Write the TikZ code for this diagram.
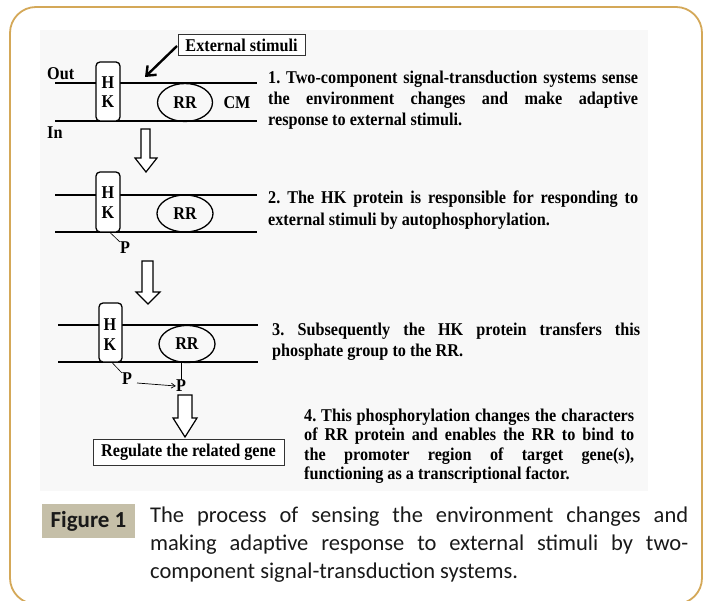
\documentclass[tikz,border=0pt]{standalone}
\usepackage{fontspec}
\setmainfont{Liberation Serif}[FakeStretch=0.9]
\newfontfamily\capfont{Carlito}
\usetikzlibrary{arrows.meta,shapes.geometric}
\definecolor{framegold}{RGB}{212,168,88}
\definecolor{figtan}{RGB}{197,191,168}
\definecolor{bglight}{RGB}{248,248,248}
\tikzset{
  lbl/.style={font=\fontsize{18}{20}\selectfont\bfseries, inner sep=0pt},
  para/.style={font=\fontsize{18}{20}\selectfont\bfseries, inner sep=0pt, anchor=base west},
  para4/.style={font=\fontsize{18}{20}\selectfont\bfseries, inner sep=0pt, anchor=base west},
  memline/.style={line width=1.8pt},
  hkbox/.style={draw, line width=1.3pt, rounded corners=4pt},
  rrell/.style={draw, ellipse, line width=1.3pt, inner sep=0pt},
  hollow/.style={draw, line width=1.2pt, fill=white},
  capline/.style={font=\capfont\fontsize{22.5}{28}\selectfont, inner sep=0pt, anchor=base west, text=black!90},
  txtbox/.style={draw=black!80, line width=1pt, inner sep=0pt}
}
\begin{document}
\frenchspacing
\begin{tikzpicture}[x=1pt,y=-1pt]
\useasboundingbox (0,0) rectangle (709,601);
% frame and background
\draw[framegold, line width=1.8pt, rounded corners=26pt] (10,7) rectangle (702,604);
\fill[bglight] (40,30) rectangle (648,491);

% ===== Step 1 =====
\node[txtbox, minimum width=127pt, minimum height=21pt, fill=white] (ext) at (241.5,45.5) {};
\node[lbl] (extt) at (ext.center) {External stimuli};
\coordinate (extarr) at (177,46);
\coordinate (exttip) at (145,77);
\draw[line width=2.4pt, -{Straight Barb[length=8pt,width=13pt]}] (extarr) -- (exttip);
\node[lbl, anchor=west] (out) at (47,74) {Out};
\node[lbl, anchor=west] (in) at (47,133) {In};
\coordinate (m1tl) at (55,83); \coordinate (m1tr) at (257,83);
\coordinate (m1bl) at (55,121); \coordinate (m1br) at (257,121);
\draw[memline] (m1tl) -- (m1tr);
\draw[memline] (m1bl) -- (m1br);
\draw[hkbox, fill=white] (96,62) rectangle (120,121);
\node[lbl] (h1) at (108,83) {H};
\node[lbl] (k1) at (108,102) {K};
\node[rrell, minimum width=55pt, minimum height=38pt] (rr1) at (185,102.5) {};
\node[lbl] (rr1t) at (rr1.center) {RR};
\node[lbl] (cm) at (237,103) {CM};
\node[para] (t1a) at (268,84) {\makebox[370pt][s]{1. Two-component signal-transduction systems sense}};
\node[para] (t1b) at (268,105) {\makebox[370pt][s]{the environment changes and make adaptive}};
\node[para] (t1c) at (268,126) {response to external stimuli.};

% hollow arrow 1
\draw[hollow] (141,129) -- (150,129) -- (150,158) -- (157,158) -- (146,172) -- (135,158) -- (141,158) -- cycle;

% ===== Step 2 =====
\draw[memline] (55,195) -- (257,195);
\draw[memline] (55,232) -- (257,232);
\draw[hkbox, fill=white] (96,172) rectangle (120,232);
\node[lbl] (h2) at (108,193) {H};
\node[lbl] (k2) at (108,213) {K};
\node[rrell, minimum width=56pt, minimum height=37pt] (rr2) at (185,213.5) {};
\node[lbl] (rr2t) at (rr2.center) {RR};
\node[lbl] (p2) at (125,248) {P};
\coordinate (p2s) at (110,232.5);
\draw[line width=0.6pt] (p2s) -- (p2.north west);
\node[para] (t2a) at (268,204) {\makebox[370pt][s]{2. The HK protein is responsible for responding to}};
\node[para] (t2b) at (268,226) {external stimuli by autophosphorylation.};

% hollow arrow 2
\draw[hollow] (142,261) -- (153,261) -- (153,292) -- (160,292) -- (148,304) -- (136,292) -- (142,292) -- cycle;

% ===== Step 3 =====
\draw[memline] (58,325) -- (258,325);
\draw[memline] (58,362) -- (258,362);
\draw[hkbox, fill=white] (99,303) rectangle (122,362);
\node[lbl] (h3) at (110,325) {H};
\node[lbl] (k3) at (110,345) {K};
\node[rrell, minimum width=56pt, minimum height=37pt] (rr3) at (187,344) {};
\node[lbl] (rr3t) at (rr3.center) {RR};
\node[lbl] (p3a) at (127,379) {P};
\node[lbl] (p3b) at (181,386) {P};
\coordinate (p3s) at (112,362.5);
\draw[line width=0.6pt] (p3s) -- (p3a.north west);
\draw[line width=0.8pt] (181,362) -- (p3b.north);
\coordinate (pa) at (137,383);
\draw[line width=0.7pt, -{Straight Barb[length=4pt,width=5pt]}] (pa) -- (p3b.west);
\node[para] (t3a) at (272,335) {\makebox[368pt][s]{3. Subsequently the HK protein transfers this}};
\node[para] (t3b) at (272,356) {phosphate group to the RR.};

% hollow arrow 3
\draw[hollow] (178,395) -- (192,395) -- (192,418) -- (197,418) -- (185,437) -- (173,418) -- (178,418) -- cycle;

% regulate box
\node[txtbox, minimum width=191pt, minimum height=26pt, fill=white] (reg) at (188.5,452) {};
\node[lbl] (regt) at (reg.center) {Regulate the related gene};

\node[para4] (t4a) at (304,421) {\makebox[330pt][s]{4. This phosphorylation changes the characters}};
\node[para4] (t4b) at (304,440) {\makebox[330pt][s]{of RR protein and enables the RR to bind to}};
\node[para4] (t4c) at (304,460) {\makebox[330pt][s]{the promoter region of target gene(s),}};
\node[para4] (t4d) at (304,479) {functioning as a transcriptional factor.};

% ===== caption =====
\fill[figtan] (42,504) rectangle (135,538);
\node[font=\capfont\bfseries\fontsize{23}{26}\selectfont, inner sep=0pt, text=black!90] (fig) at (88.5,521) {Figure 1};
\node[capline] (c1) at (150,522) {\makebox[538pt][s]{The process of sensing the environment changes and}};
\node[capline] (c2) at (150,550) {\makebox[538pt][s]{making adaptive response to external stimuli by two-}};
\node[capline] (c3) at (150,578) {component signal-transduction systems.};
\end{tikzpicture}
\end{document}
